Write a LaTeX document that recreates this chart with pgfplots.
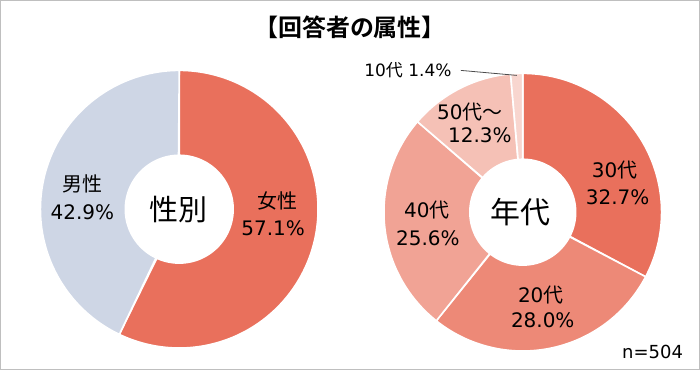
\documentclass[border=0pt]{standalone}
\usepackage{pgfplots}
\pgfplotsset{compat=1.18}
\usepackage{fontspec}
\setmainfont{DejaVu Sans}
\newfontfamily\jp{Noto Sans CJK JP}
\newfontfamily\jpb{Noto Sans CJK JP Bold}
\definecolor{cA}{RGB}{233,112,92}
\definecolor{cB}{RGB}{237,137,119}
\definecolor{cC}{RGB}{241,163,149}
\definecolor{cD}{RGB}{245,193,182}
\definecolor{cE}{RGB}{248,214,207}
\definecolor{cM}{RGB}{206,214,229}
\definecolor{txt}{RGB}{20,20,20}
% slice: center x, center y, outer R, inner r, start %, end %, colour
\newcommand{\donutslice}[7]{%
  \addplot[fill=#7, draw=white, line width=1.6pt, line join=round, domain=0:2, samples=401]
    ({#1+((x<1.0001)*#3+(x>1.0001)*#4)*sin(3.6*(#5+(#6-#5)*(1-abs(1-x))))},
     {#2+((x<1.0001)*#3+(x>1.0001)*#4)*cos(3.6*(#5+(#6-#5)*(1-abs(1-x))))}) -- cycle;
}
\newcommand{\fs}[1]{\fontsize{#1bp}{#1bp}\selectfont}
\begin{document}
\begin{tikzpicture}
\begin{axis}[
  width=700bp, height=370bp, scale only axis,
  xmin=0, xmax=700, ymin=0, ymax=370,
  axis lines=box, axis line style={draw=black!25, line width=1pt},
  xtick=\empty, ytick=\empty, clip=false,
  every node/.append style={text=txt, align=center, inner sep=0pt},
]
% 性別: 女性 57.1, 男性 42.9
\donutslice{179}{161}{139}{54}{0}{57.1}{cA}
\donutslice{179}{161}{139}{54}{57.1}{100}{cM}
% 年代: 30代 32.7, 20代 28.0, 40代 25.6, 50代~ 12.3, 10代 1.4
\donutslice{523}{158}{139}{53}{0}{32.7}{cA}
\donutslice{523}{158}{139}{53}{32.7}{60.7}{cB}
\donutslice{523}{158}{139}{53}{60.7}{86.3}{cC}
\donutslice{523}{158}{139}{53}{86.3}{98.6}{cD}
\donutslice{523}{158}{139}{53}{98.6}{100}{cE}

\node[font=\fs{24}\jpb] at (axis cs:350,343) {【回答者の属性】};

\node[font=\fs{20}\jp] at (axis cs:82,186) {男性};
\node[font=\fs{20}] at (axis cs:82,158) {42.9\%};
\node[font=\fs{20}\jp] at (axis cs:277,169) {女性};
\node[font=\fs{20}] at (axis cs:273,142) {57.1\%};
\node[font=\fs{29}\jp] at (axis cs:178,161) {性別};

\node[font=\fs{20}] at (axis cs:615,200) {30{\jp 代}};
\node[font=\fs{20}] at (axis cs:618,173) {32.7\%};
\node[font=\fs{20}] at (axis cs:541,75) {20{\jp 代}};
\node[font=\fs{20}] at (axis cs:543,50) {28.0\%};
\node[font=\fs{20}] at (axis cs:427,160) {40{\jp 代}};
\node[font=\fs{20}] at (axis cs:428,132) {25.6\%};
\node[font=\fs{20}] at (axis cs:470,258) {50{\jp 代～}};
\node[font=\fs{20}] at (axis cs:480,235) {12.3\%};
\node[font=\fs{17}] at (axis cs:408,300) {10{\jp 代} 1.4\%};
\draw[black!70, line width=0.8pt] (axis cs:461,300) -- (axis cs:517,295);
\node[font=\fs{30}\jp] at (axis cs:521,158) {年代};

\node[font=\fs{18}] at (axis cs:653,18) {n=504};
\end{axis}
\end{tikzpicture}
\end{document}
